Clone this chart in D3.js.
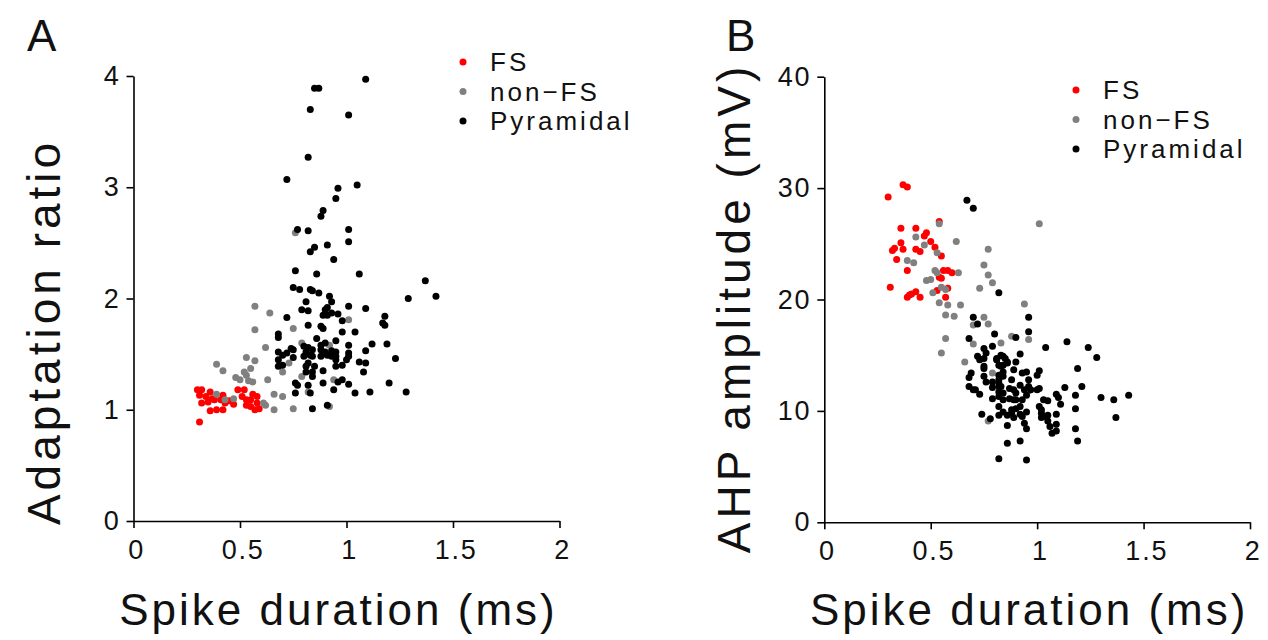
<html>
<head>
<script src="https://d3js.org/d3.v7.min.js"></script>
<style>
body { margin: 0; background: #fff; }
svg { font-family: "Liberation Sans", Arial, sans-serif; }
.axis path, .axis line { stroke: #000; stroke-width: 1.6; }
.axis text { font-size: 27px; fill: #111; letter-spacing: 1.8px; }
.title { font-size: 44px; fill: #111; letter-spacing: 3px; }
.ytitle { font-size: 46px; letter-spacing: 4px; }
.letter { font-size: 44px; fill: #111; }
.legend text { font-size: 26px; fill: #111; letter-spacing: 3px; }
</style>
</head>
<body>
<div id="chart"></div>
<script>
// categories, colours and ticks
var categories = ["FS", "non\u2212FS", "Pyramidal"];
var colors = ["#ff0000", "#808080", "#000000"];
var xTicks = [0, 0.5, 1, 1.5, 2];
var yTicksA = [0, 1, 2, 3, 4];
var yTicksB = [0, 10, 20, 30, 40];
var xTitle = "Spike duration (ms)";
var yTitleA = "Adaptation ratio";
var yTitleB = "AHP amplitude (mV)";

// panel A: [spike duration, adaptation ratio]
var fsA = [[0.30,1.18],[0.32,1.18],[0.31,1.13],[0.34,1.12],[0.36,1.16],[0.37,1.10],[0.38,1.09],[0.32,1.06],[0.36,0.99],[0.39,1.00],[0.41,1.09],[0.42,1.13],[0.43,1.06],[0.42,1.00],[0.47,1.05],[0.31,0.89],[0.49,1.18],[0.52,1.18],[0.51,1.12],[0.53,1.09],[0.53,1.04],[0.55,1.09],[0.55,1.03],[0.57,1.00],[0.58,1.12],[0.59,1.01],[0.58,1.06],[0.45,1.08],[0.35,1.07],[0.56,1.14]];
var nonFsA = [[0.57,1.93],[0.64,1.87],[0.57,1.72],[0.62,1.56],[0.75,1.73],[0.79,1.60],[0.53,1.47],[0.57,1.44],[0.39,1.41],[0.42,1.35],[0.48,1.29],[0.52,1.34],[0.55,1.37],[0.53,1.31],[0.50,1.27],[0.54,1.26],[0.56,1.25],[0.63,1.27],[0.70,1.34],[0.39,1.14],[0.43,1.09],[0.47,1.10],[0.66,1.14],[0.70,1.12],[0.61,1.06],[0.62,1.04],[0.66,1.00],[0.75,1.01],[0.94,1.27],[0.82,1.16],[0.76,2.59],[0.73,1.42],[1.01,1.81],[0.79,1.30],[0.92,1.03],[0.92,1.58]];
var pyrA = [[0.85,3.89],[0.87,3.89],[0.83,3.70],[0.82,3.27],[0.72,3.07],[0.96,2.99],[0.95,2.90],[0.89,2.79],[0.88,2.74],[0.77,2.62],[0.82,2.61],[0.85,2.46],[0.83,2.42],[0.91,2.48],[0.94,2.35],[0.76,2.25],[0.86,2.22],[0.75,2.10],[0.78,2.08],[0.83,2.08],[0.84,2.07],[0.87,2.05],[0.92,2.02],
  [1.09,3.97],[1.01,3.65],[1.05,3.02],[1.01,2.62],[1.01,2.51],[1.06,2.22],[1.37,2.16],[1.29,2.00],[1.42,2.02],
  [1.01,1.93],[1.09,1.91],[1.18,1.84],[1.17,1.78],[1.18,1.76],[0.98,1.80],[0.98,1.70],[1.04,1.70],[0.95,1.62],[1.01,1.58],[1.12,1.59],[1.19,1.59],[1.09,1.53],[0.95,1.52],[0.95,1.48],[1.01,1.51],[1.01,1.48],[1.00,1.45],[1.23,1.46],[1.06,1.43],[1.09,1.42],[0.98,1.40],[1.08,1.34],[0.98,1.27],[1.01,1.23],[1.20,1.24],[0.94,1.18],[1.04,1.15],[1.11,1.16],[1.28,1.16],
  [0.81,1.97],[0.93,1.97],[0.79,1.90],[0.82,1.89],[0.90,1.90],[0.91,1.92],[0.89,1.85],[0.91,1.85],[0.93,1.87],[0.96,1.86],[0.72,1.83],[0.82,1.76],[0.88,1.75],[0.89,1.73],[0.68,1.68],[0.68,1.65],[0.86,1.64],[0.90,1.60],[0.88,1.58],[0.74,1.55],[0.75,1.54],[0.68,1.52],[0.70,1.49],[0.72,1.51],[0.80,1.57],[0.82,1.56],[0.84,1.54],[0.81,1.52],[0.83,1.49],[0.80,1.48],[0.84,1.48],[0.88,1.54],[0.90,1.52],[0.91,1.49],[0.93,1.53],[0.88,1.48],[0.93,1.48],[0.95,1.45],[0.75,1.47],[0.68,1.45],[0.70,1.40],[0.68,1.39],[0.81,1.39],[0.82,1.42],[0.85,1.39],[0.81,1.34],[0.84,1.34],[0.84,1.30],[0.89,1.35],[0.95,1.39],[0.96,1.25],[0.76,1.24],[0.77,1.22],[0.82,1.22],[0.89,1.24],[0.76,1.15],[0.83,1.15],[0.84,1.01],[0.91,1.04]];

// panel B: [spike duration, AHP amplitude]
var fsB = [[0.37,30.3],[0.39,30.1],[0.30,29.2],[0.54,27.0],[0.36,26.4],[0.43,26.4],[0.48,26.0],[0.47,25.7],[0.36,25.1],[0.33,24.6],[0.32,24.4],[0.37,24.5],[0.43,24.5],[0.45,24.3],[0.50,25.2],[0.52,24.7],[0.55,23.9],[0.34,23.6],[0.39,22.6],[0.56,22.6],[0.58,22.6],[0.60,22.4],[0.54,22.0],[0.55,21.9],[0.31,21.1],[0.58,21.0],[0.53,20.8],[0.43,20.7],[0.41,20.5],[0.39,20.2],[0.45,20.2],[0.57,20.2],[0.40,20.4]];
var nonFsB = [[0.54,26.8],[1.01,26.8],[0.43,25.6],[0.47,24.9],[0.53,24.2],[0.62,25.2],[0.77,24.5],[0.39,23.5],[0.42,23.3],[0.52,22.6],[0.50,21.8],[0.48,21.7],[0.53,22.4],[0.63,22.4],[0.75,23.1],[0.77,22.2],[0.79,21.5],[0.73,21.0],[0.55,21.1],[0.57,20.9],[0.51,20.6],[0.54,19.7],[0.58,19.5],[0.64,19.5],[0.57,18.6],[0.61,18.5],[0.94,19.6],[0.75,18.4],[0.70,17.7],[0.77,17.8],[0.57,16.5],[0.55,15.2],[0.66,14.4],[0.88,16.7],[0.96,16.4],[0.83,16.1],[0.70,16.0],[0.81,14.6],[0.79,13.4],[0.96,11.8],[0.77,9.1]];
var pyrB = [[0.67,28.9],[0.70,28.2],[0.82,20.6],[0.70,18.4],[0.72,17.8],[0.96,18.4],[0.96,17.1],[0.80,16.9],[0.90,16.6],[0.68,16.5],[1.04,15.7],[1.14,16.2],[1.24,15.7],[1.28,14.8],[0.79,15.8],[0.92,15.1],[0.75,15.6],[0.76,15.2],[0.72,14.9],[0.75,14.7],[0.73,14.6],[0.75,14.0],[0.83,15.0],[0.85,14.7],[0.86,14.3],[0.84,14.1],[0.81,14.6],[0.90,14.4],
  [0.69,13.4],[0.68,13.0],[0.68,12.2],[0.71,11.9],[0.73,11.5],[0.75,13.1],[0.76,12.6],[0.79,12.1],[0.82,13.2],[0.84,13.5],[0.82,12.8],[0.83,12.2],[0.82,11.7],[0.82,11.3],[0.84,11.0],[0.89,13.7],[0.88,12.8],[0.87,12.0],[0.90,11.6],[0.89,11.0],[0.95,13.5],[0.96,12.8],[0.96,12.2],[0.97,11.9],[0.95,11.4],[0.93,11.0],[1.01,13.6],[1.00,13.2],[1.01,12.0],[1.03,11.0],
  [0.92,10.4],[0.95,9.9],[0.93,9.5],[0.90,10.2],[1.01,10.4],[1.02,10.1],[1.04,9.5],[1.05,9.6],[0.82,10.4],[0.84,9.9],[0.86,9.6],[0.88,9.8],[0.82,9.6],[0.74,9.7],[0.78,9.3],[0.86,8.7],[0.94,8.9],[0.95,8.4],[0.86,7.1],[0.92,7.3],[0.82,5.7],[0.95,5.6],
  [1.05,10.9],[1.09,11.5],[1.10,11.2],[1.13,12.1],[1.11,10.6],[1.09,9.7],[1.06,8.6],[1.09,8.8],[1.07,8.0],[1.09,8.2],[1.18,11.4],[1.21,12.2],[1.19,13.8],[1.18,10.2],[1.18,8.4],[1.19,7.3],[1.30,11.2],[1.36,11.0],[1.43,11.4],[1.37,9.4],[0.92,12.3],[1.00,11.9],[1.02,9.4],[1.05,9.1],[1.02,9.8],
  [0.89,9.4],[0.92,9.7],[0.88,10.1],[0.94,11.9],[0.93,13.4],[0.89,11.9],[0.87,11.1],[0.90,11.0],[0.83,14.0],[0.84,13.1],[0.82,12.5],[0.84,11.6],[0.79,12.6],[0.82,12.2],[0.79,11.1],[0.70,11.9],[0.75,13.8],[0.81,14.7],[0.84,14.9],[0.86,14.4],[0.82,14.1]];

var width = 1268;
var height = 640;
var dotRadius = 3.5;

var svg = d3.select("#chart").append("svg")
  .attr("width", width)
  .attr("height", height);

function drawPanel(p) {
  var xScale = d3.scaleLinear().domain([0, 2]).range([p.left, p.right]);
  var yScale = d3.scaleLinear().domain([0, p.yMax]).range([p.bottom, p.top]);
  var g = svg.append("g");

  /* points, FS first so pyramidal ends on top */
  p.series.forEach(function(s, i) {
    g.append("g").selectAll("circle")
      .data(s).enter()
      .append("circle")
      .attr("cx", d => xScale(d[0]))
      .attr("cy", d => yScale(d[1]))
      .attr("r", dotRadius)
      .style("fill", colors[i]);
  });

  /* axes */
  g.append("g")
    .attr("class", "axis")
    .attr("transform", `translate(0, ${p.bottom})`)
    .call(d3.axisBottom(xScale).tickValues(xTicks).tickSize(7).tickSizeOuter(0).tickPadding(12).tickFormat(d => d))
    .selectAll("text").attr("dx", "0.1em");
  g.append("g")
    .attr("class", "axis")
    .attr("transform", `translate(${p.left}, 0)`)
    .call(d3.axisLeft(yScale).tickValues(p.yTicks).tickSize(7).tickSizeOuter(0).tickPadding(6).tickFormat(d => d));
  g.selectAll(".axis .domain").attr("stroke-width", 2);

  /* titles */
  g.append("text")
    .attr("class", "title")
    .attr("x", (p.left + p.right) / 2 - 8)
    .attr("y", 625)
    .attr("text-anchor", "middle")
    .text(xTitle);
  g.append("text")
    .attr("class", "title ytitle")
    .attr("transform", `translate(${p.left - 74}, ${p.yTitleMid}) rotate(-90)`)
    .attr("text-anchor", "middle")
    .text(p.yTitle);
  g.append("text")
    .attr("class", "letter")
    .attr("x", p.letterX)
    .attr("y", 51)
    .text(p.letter);

  /* legend */
  var lg = g.selectAll(".legend-" + p.letter)
    .data(categories).enter()
    .append("g")
    .attr("class", "legend")
    .attr("transform", (d, i) => `translate(${p.legendX}, ${p.legendY + i * 29.5})`);
  lg.append("circle").attr("r", dotRadius).style("fill", (d, i) => colors[i]);
  lg.append("text").attr("x", 27).attr("dy", "0.36em").text(d => d);
}

drawPanel({letter: "A", letterX: 27, left: 133.5, right: 559.5, top: 76, bottom: 521,
  yMax: 4, yTicks: yTicksA, yTitle: yTitleA, yTitleMid: 332,
  legendX: 463, legendY: 62, series: [fsA, nonFsA, pyrA]});
drawPanel({letter: "B", letterX: 726, left: 824.3, right: 1250, top: 76.7, bottom: 522.3,
  yMax: 40, yTicks: yTicksB, yTitle: yTitleB, yTitleMid: 308,
  legendX: 1076, legendY: 90, series: [fsB, nonFsB, pyrB]});
</script>
</body>
</html>
